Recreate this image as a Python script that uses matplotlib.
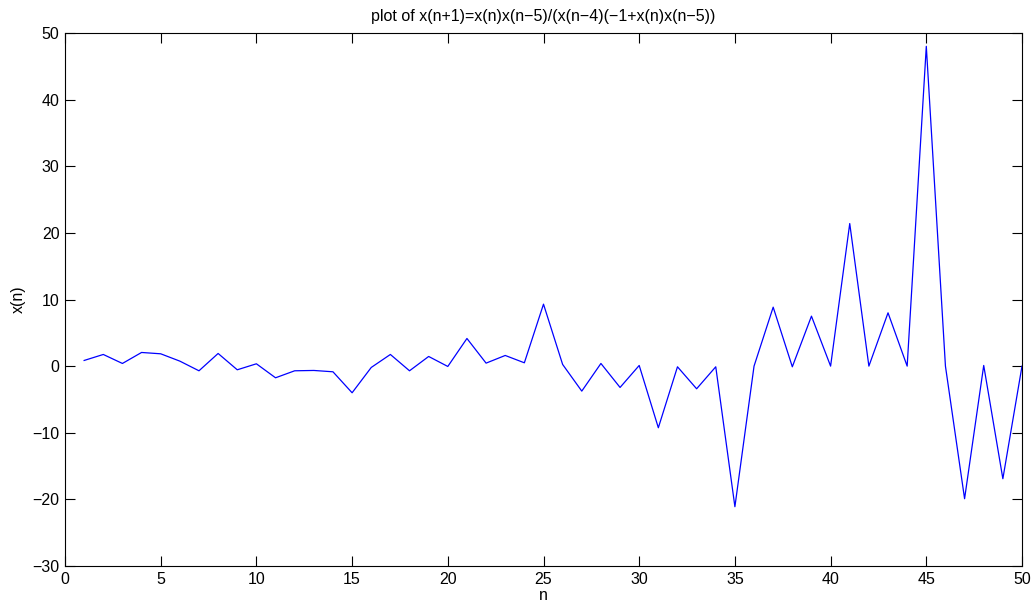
import numpy as np
import matplotlib.pyplot as plt

plt.rcParams['font.family'] = ['Liberation Sans', 'DejaVu Sans']

# iterates of x(n+1) = x(n)x(n-5) / (x(n-4)(-1 + x(n)x(n-5)))
n = np.arange(1, 51)
x = [0.85, 1.75, 0.4, 2.05, 1.85, 0.75, -0.7, 1.9, -0.55, 0.35,
     -1.75, -0.7, -0.65, -0.85, -4.0, -0.2, 1.75, -0.7, 1.45, -0.05,
     4.15, 0.45, 1.6, 0.5, 9.3, 0.25, -3.75, 0.4, -3.2, 0.1,
     -9.25, -0.1, -3.4, -0.1, -21.1, 0.0, 8.85, -0.1, 7.5, 0.0,
     21.4, 0.0, 8.0, 0.0, 48.0, 0.0, -19.9, 0.1, -16.9, 0.0]

xticks = np.arange(0, 51, 5)
yticks = np.arange(-30, 51, 10)

fig = plt.figure(figsize=(10.35, 6.1), dpi=100)
ax = fig.add_axes([65/1035, 1 - 566/610, (1022-65)/1035, (566-33)/610])
ax.plot(n, x, color='#0000ff', linewidth=0.9)

ax.set_xlim(0, 50)
ax.set_ylim(-30, 50)
ax.set_xticks(xticks)
ax.set_yticks(yticks)
ax.tick_params(direction='in', top=True, right=True, length=7, width=0.8,
               labelsize=11.5, pad=4)
for s in ax.spines.values():
    s.set_linewidth(0.8)

ax.set_title('plot of x(n+1)=x(n)x(n\u22125)/(x(n\u22124)(\u22121+x(n)x(n\u22125))',
             fontsize=11.5, pad=9)
ax.set_xlabel('n', fontsize=11.5, labelpad=1)
ax.set_ylabel('x(n)', fontsize=11.5, labelpad=5)

# unicode minus on tick labels like the title
ax.set_yticklabels([str(v).replace('-', '\u2212') for v in yticks])

fig.savefig('out.png', dpi=100)
